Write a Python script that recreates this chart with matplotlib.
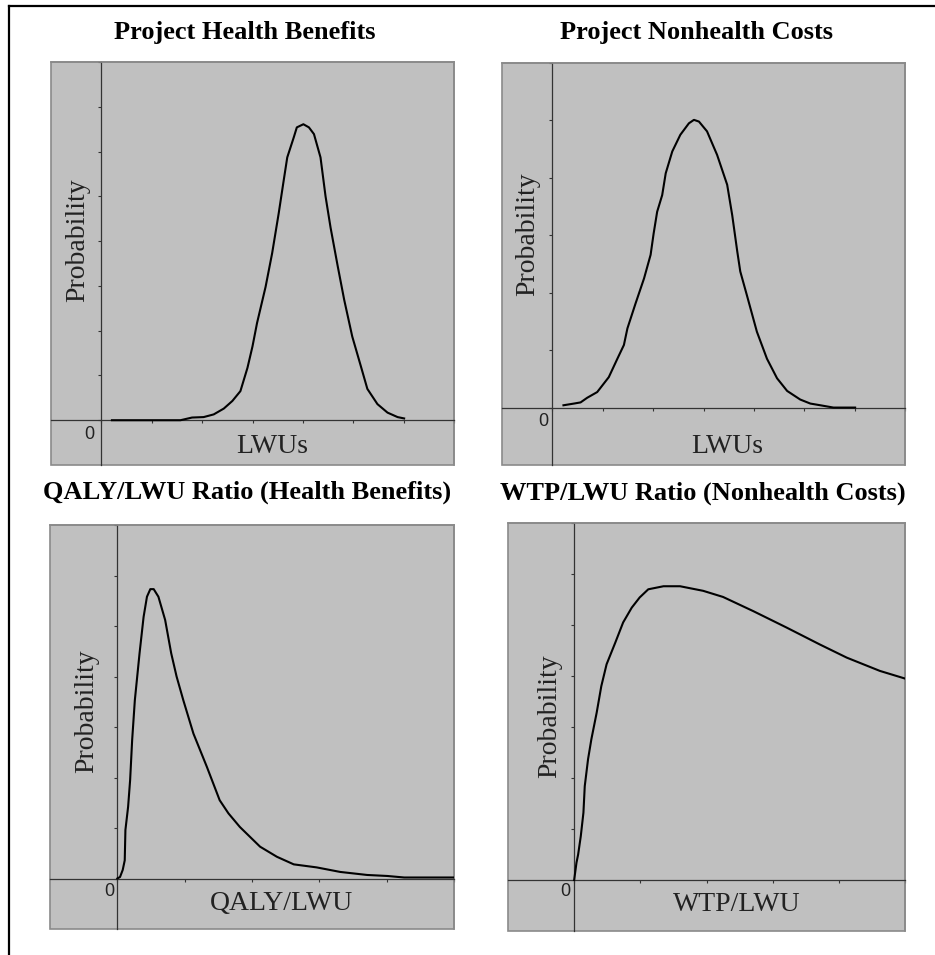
import matplotlib
matplotlib.use('Agg')
import matplotlib.pyplot as plt
from matplotlib.lines import Line2D
from matplotlib.patches import Rectangle

# curve values (x in axis tick units, y in tick units)
benefit_x = [0.21, 1.57, 1.8, 2.03, 2.23, 2.43, 2.6, 2.76, 2.9, 3.0, 3.09, 3.26, 3.39, 3.52, 3.62, 3.69,
             3.82, 3.88, 4.01, 4.12, 4.22, 4.35, 4.45, 4.55, 4.69, 4.82, 4.98, 5.15, 5.28, 5.48, 5.68, 5.88, 6.01]
benefit_y = [0, 0, 0.06, 0.07, 0.13, 0.26, 0.43, 0.65, 1.17, 1.65, 2.17, 2.98, 3.73, 4.62, 5.36, 5.87,
             6.32, 6.54, 6.61, 6.54, 6.39, 5.87, 5.0, 4.3, 3.45, 2.69, 1.87, 1.21, 0.7, 0.36, 0.17, 0.07, 0.04]

cost_x = [0.22, 0.43, 0.56, 0.69, 0.89, 1.12, 1.29, 1.42, 1.49, 1.65, 1.82, 1.95, 2.01, 2.08, 2.18, 2.25,
          2.38, 2.54, 2.71, 2.81, 2.91, 3.07, 3.27, 3.47, 3.57, 3.67, 3.73, 3.86, 4.06, 4.26, 4.46, 4.66,
          4.92, 5.12, 5.32, 5.58, 6.01]
cost_y = [0.04, 0.07, 0.09, 0.17, 0.27, 0.53, 0.85, 1.09, 1.38, 1.81, 2.25, 2.66, 3.03, 3.41, 3.70, 4.08,
          4.46, 4.75, 4.95, 5.01, 4.98, 4.81, 4.40, 3.88, 3.35, 2.72, 2.37, 1.96, 1.32, 0.85, 0.51, 0.29,
          0.14, 0.07, 0.04, 0, 0]

qaly_x = [0, 0.04, 0.08, 0.11, 0.12, 0.16, 0.19, 0.22, 0.26, 0.33, 0.39, 0.44, 0.49, 0.54, 0.61, 0.71,
          0.80, 0.88, 0.98, 1.13, 1.33, 1.52, 1.65, 1.82, 2.12, 2.37, 2.62, 2.96, 3.31, 3.71, 4.01, 4.26, 5.0]
qaly_y = [0, 0.03, 0.17, 0.36, 0.96, 1.42, 1.95, 2.74, 3.53, 4.46, 5.18, 5.58, 5.73, 5.73, 5.58, 5.12,
          4.46, 4.00, 3.53, 2.87, 2.21, 1.55, 1.29, 1.02, 0.63, 0.43, 0.28, 0.22, 0.13, 0.07, 0.05, 0.02, 0.02]

wtp_x = [0, 0.035, 0.06, 0.1, 0.14, 0.16, 0.21, 0.26, 0.34, 0.41, 0.49, 0.62, 0.74, 0.87, 0.99, 1.12,
         1.35, 1.60, 1.95, 2.25, 2.71, 3.21, 3.71, 4.12, 4.62, 5.0]
wtp_y = [0, 0.34, 0.50, 0.86, 1.32, 1.84, 2.37, 2.76, 3.28, 3.80, 4.23, 4.65, 5.05, 5.34, 5.54, 5.70,
         5.76, 5.76, 5.67, 5.55, 5.27, 4.95, 4.62, 4.36, 4.10, 3.95]

titles = ['Project Health Benefits', 'Project Nonhealth Costs',
          'QALY/LWU Ratio (Health Benefits)', 'WTP/LWU Ratio (Nonhealth Costs)']
xlabels = ['LWUs', 'LWUs', 'QALY/LWU', 'WTP/LWU']

W, H = 935, 955
fig = plt.figure(figsize=(W / 100, H / 100), dpi=100)

serif = 'Liberation Serif'
sans = 'Liberation Sans'

# pixel boxes: left, top, right, bottom
boxes = [(51, 62, 454, 465), (502, 63, 905, 465), (50, 525, 454, 929), (508, 523, 905, 931)]
limits = [((-1, 7), (-1, 8)), ((-1, 7), (-1, 6)), ((-1, 5), (-1, 7)), ((-1, 5), (-1, 7))]
title_pos = [(245, 33), (696, 33), (247, 492), (703, 493)]
xlab_pos = [(0.55, 0.045), (0.558, 0.045), (0.574, 0.064), (0.577, 0.064)]
ylab_pos = [(0.067, 0.558), (0.065, 0.575), (0.092, 0.54), (0.106, 0.527)]
zero_off = [(-5, -4), (-3, -4), (-2, -3), (-3, -2)]
curves = [(benefit_x, benefit_y), (cost_x, cost_y), (qaly_x, qaly_y), (wtp_x, wtp_y)]

for i in range(4):
    l, t, r, b = boxes[i]
    ax = fig.add_axes([l / W, 1 - b / H, (r - l) / W, (b - t) / H])
    ax.set_facecolor('#c0c0c0')
    (x0, x1), (y0, y1) = limits[i]
    ax.set_xlim(x0, x1)
    ax.set_ylim(y0, y1)

    cx, cy = curves[i]
    ax.plot(cx, cy, color='black', lw=1.5, zorder=3)

    for s in ['top', 'right']:
        ax.spines[s].set_color('#8a8a8a')
        ax.spines[s].set_linewidth(1.2)
    for s in ['left', 'bottom']:
        ax.spines[s].set_position(('data', 0))
        ax.spines[s].set_color('#333333')
        ax.spines[s].set_linewidth(0.9)
    ax.add_patch(Rectangle((0, 0), 1, 1, transform=ax.transAxes, fill=False,
                           edgecolor='#8a8a8a', lw=1.2, clip_on=False, zorder=1))

    ax.set_xticks(range(0, x1 + 1))
    ax.set_yticks(range(0, y1 + 1))
    ax.tick_params(direction='out', length=2, width=0.8, color='#333333',
                   labelbottom=False, labelleft=False)

    ax.annotate('0', xy=(0, 0), xytext=zero_off[i], textcoords='offset points',
                ha='right', va='top', fontsize=13, family=sans, color='#222222')
    ax.text(xlab_pos[i][0], xlab_pos[i][1], xlabels[i], transform=ax.transAxes,
            ha='center', va='center', fontsize=20, family=serif, color='#222222')
    ax.text(ylab_pos[i][0], ylab_pos[i][1], 'Probability', transform=ax.transAxes,
            ha='center', va='center', rotation=90, fontsize=20, family=serif, color='#222222')

    tx, ty = title_pos[i]
    fig.text(tx / W, 1 - ty / H, titles[i], ha='center', va='center',
             fontsize=19, fontweight='bold', family=serif)

# outer frame: top and left rules only
fig.add_artist(Line2D([9 / W, 1], [1 - 6 / H, 1 - 6 / H], color='black', lw=1.6))
fig.add_artist(Line2D([9 / W, 9 / W], [0, 1 - 6 / H], color='black', lw=1.6))

fig.savefig('out.png', dpi=100)
